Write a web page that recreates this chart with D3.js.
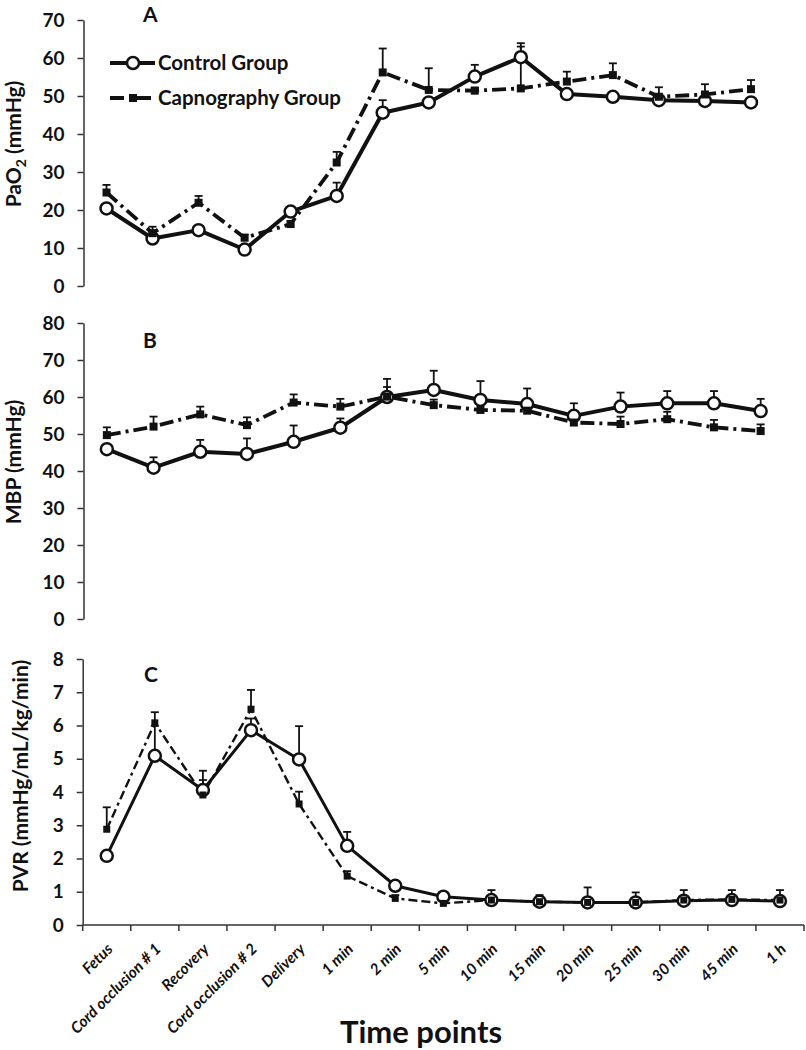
<!DOCTYPE html>
<html><head><meta charset="utf-8">
<script src="https://cdn.jsdelivr.net/npm/d3@7"></script>
<style>body{margin:0;background:#fff} svg{display:block} text{font-family:Lato,'DejaVu Sans',sans-serif;fill:#111}</style>
</head><body><svg id="chart" width="806" height="1050"></svg>
<script>
// ---------- data ----------
const timePoints = ["Fetus","Cord occlusion # 1","Recovery","Cord occlusion # 2","Delivery","1 min","2 min","5 min","10 min","15 min","20 min","25 min","30 min","45 min","1 h"];
const seriesNames = ["Control Group","Capnography Group"];

const pao2Control    = [20.4,12.5,14.7,9.6,19.6,23.7,45.6,48.3,55.1,60.2,50.5,49.8,48.9,48.7,48.3];
const pao2ControlErr = [0.5,0.6,0.6,0.5,0.8,3.5,3.3,1.0,3.1,3.7,1.2,1.0,0.8,0.8,0.8];
const pao2Capno      = [24.6,13.9,21.9,12.7,16.3,32.5,56.2,51.6,51.4,52.0,53.8,55.5,49.8,50.4,51.8];
const pao2CapnoErr   = [2.0,1.7,1.8,0.8,0.8,2.8,6.3,5.7,0.8,11.0,2.6,3.1,2.5,2.7,2.4];

const mbpControl    = [45.9,40.9,45.2,44.6,47.9,51.7,60.0,61.9,59.2,58.1,54.9,57.4,58.3,58.3,56.2];
const mbpControlErr = [0.8,2.8,3.2,4.2,4.4,2.5,2.7,5.2,5.1,4.2,3.4,3.8,3.3,3.3,3.3];
const mbpCapno      = [49.7,52.0,55.3,52.4,58.5,57.4,60.1,57.8,56.5,56.3,53.1,52.7,54.0,51.8,50.8];
const mbpCapnoErr   = [2.1,2.7,2.1,2.1,2.2,2.1,4.8,1.5,1.5,1.5,1.5,2.0,2.0,2.0,1.8];

const pvrControl    = [2.08,5.09,4.06,5.86,4.98,2.38,1.18,0.85,0.75,0.70,0.68,0.68,0.73,0.75,0.72];
const pvrControlErr = [0.15,0.9,0.3,0.35,1.0,0.42,0.12,0.1,0.1,0.1,0.1,0.1,0.1,0.1,0.1];
const pvrCapno      = [2.88,6.08,3.91,6.49,3.64,1.47,0.80,0.65,0.75,0.70,0.68,0.68,0.75,0.77,0.75];
const pvrCapnoErr   = [0.66,0.32,0.73,0.58,0.37,0.15,0.1,0.1,0.3,0.2,0.45,0.3,0.3,0.28,0.3];

const yMaxA = 70, yMaxB = 80, yMaxC = 8;
const xAxisTitle = "Time points";

// ---------- layout ----------
const svg = d3.select("#chart");
const panels = [
  {label:"A", ctl:pao2Control, ctlErr:pao2ControlErr, cap:pao2Capno, capErr:pao2CapnoErr, yMax:yMaxA, step:10,
   top:20, bottom:286, left:83.5, right:774, labelPos:[143,22], yTitleY:144, yTitleX:21, lw:4, cw:3.8, dash:"14,5,3,5", sq:8, xAxis:false},
  {label:"B", ctl:mbpControl, ctlErr:mbpControlErr, cap:mbpCapno, capErr:mbpCapnoErr, yMax:yMaxB, step:10,
   top:323, bottom:619, left:83.5, right:784, labelPos:[143,348], yTitleY:462, yTitleX:21, lw:4, cw:3.8, dash:"14,5,3,5", sq:8, xAxis:false},
  {label:"C", ctl:pvrControl, ctlErr:pvrControlErr, cap:pvrCapno, capErr:pvrCapnoErr, yMax:yMaxC, step:1,
   top:659, bottom:925, left:82.7, right:804, labelPos:[144,682], yTitleY:776, yTitleX:28, lw:3, cw:2.4, dash:"9,4,9,4,3,4", sq:7, xAxis:true}
];

panels.forEach(p => {
  const g = svg.append("g");
  const x = d3.scaleBand().domain(timePoints).range([p.left, p.right]);
  const y = d3.scaleLinear().domain([0, p.yMax]).range([p.bottom, p.top]);
  const cx = d => x(d) + x.bandwidth()/2;

  // y axis
  const ya = d3.axisLeft(y).tickValues(d3.range(0, p.yMax + p.step/2, p.step)).tickSize(6).tickSizeOuter(0).tickPadding(13);
  const yg = g.append("g").attr("transform", `translate(${p.left},0)`).call(ya);
  yg.select(".domain").attr("stroke","#333").attr("stroke-width",1.5);
  yg.selectAll(".tick line").attr("stroke","#333").attr("stroke-width",1.5);
  yg.selectAll(".tick text").attr("font-size",19).attr("font-weight","bold").attr("fill","#111")
    .style("font-family","Lato,'DejaVu Sans',sans-serif");

  // x axis (panel C only)
  if (p.xAxis) {
    const xg = g.append("g");
    xg.append("line").attr("x1",p.left).attr("x2",p.right).attr("y1",p.bottom).attr("y2",p.bottom)
      .attr("stroke","#333").attr("stroke-width",1.5);
    const bounds = timePoints.map(d => x(d)).concat([x(timePoints[timePoints.length-1]) + x.step()]);
    xg.selectAll("line.tk").data(bounds).join("line").attr("class","tk")
      .attr("x1",d=>d).attr("x2",d=>d).attr("y1",p.bottom).attr("y2",p.bottom+6)
      .attr("stroke","#333").attr("stroke-width",1.5);
    xg.selectAll("text.xl").data(timePoints).join("text").attr("class","xl")
      .attr("transform", d => `translate(${cx(d)+7},${p.bottom+25}) rotate(-45)`)
      .attr("text-anchor","end").attr("font-size",15.5).attr("font-weight","bold").attr("font-style","italic")
      .text(d=>d);
    svg.append("text").attr("x",421).attr("y",1043).attr("text-anchor","middle")
      .attr("font-size",31).attr("font-weight","bold").text(xAxisTitle);
  }

  // panel letter
  g.append("text").attr("x",p.labelPos[0]).attr("y",p.labelPos[1]).attr("font-size",21).attr("font-weight","bold").text(p.label);

  const line = d3.line().x((d,i)=>cx(timePoints[i])).y(d=>y(d));

  const errBars = (vals, errs) => {
    const eg = g.append("g").attr("stroke","#111").attr("stroke-width",1.8).attr("fill","none");
    vals.forEach((v,i) => {
      const xc = cx(timePoints[i]);
      eg.append("line").attr("x1",xc).attr("x2",xc).attr("y1",y(v)).attr("y2",y(v+errs[i]));
      eg.append("line").attr("x1",xc-4).attr("x2",xc+4).attr("y1",y(v+errs[i])).attr("y2",y(v+errs[i]));
    });
  };
  errBars(p.ctl, p.ctlErr);
  errBars(p.cap, p.capErr);

  g.append("path").datum(p.ctl).attr("d",line).attr("fill","none").attr("stroke","#111").attr("stroke-width",p.lw).attr("stroke-linejoin","round");
  g.append("path").datum(p.cap).attr("d",line).attr("fill","none").attr("stroke","#111").attr("stroke-width",p.cw).attr("stroke-dasharray",p.dash);

  g.selectAll("circle.m").data(p.ctl).join("circle").attr("class","m")
    .attr("cx",(d,i)=>cx(timePoints[i])).attr("cy",d=>y(d)).attr("r",6)
    .attr("fill","#fff").attr("stroke","#111").attr("stroke-width",2.5);
  g.selectAll("rect.m").data(p.cap).join("rect").attr("class","m")
    .attr("x",(d,i)=>cx(timePoints[i])-p.sq/2).attr("y",d=>y(d)-p.sq/2).attr("width",p.sq).attr("height",p.sq)
    .attr("fill","#111");

  // y title
  const yt = svg.append("text").attr("transform",`translate(${p.yTitleX},${p.yTitleY}) rotate(-90)`)
    .attr("text-anchor","middle").attr("font-size",21).attr("font-weight","bold");
  if (p.label === "A") {
    yt.append("tspan").text("PaO");
    yt.append("tspan").attr("font-size",14).attr("dy",5).text("2");
    yt.append("tspan").attr("dy",-5).text(" (mmHg)");
  } else if (p.label === "B") {
    yt.text("MBP (mmHg)");
  } else {
    yt.text("PVR (mmHg/mL/kg/min)");
  }
});

// legend
const leg = svg.append("g");
const legY = [63, 98];
leg.append("line").attr("x1",110).attr("x2",155).attr("y1",legY[0]).attr("y2",legY[0]).attr("stroke","#111").attr("stroke-width",4);
leg.append("circle").attr("cx",133).attr("cy",legY[0]).attr("r",6).attr("fill","#fff").attr("stroke","#111").attr("stroke-width",2.5);
leg.append("line").attr("x1",110).attr("x2",155).attr("y1",legY[1]).attr("y2",legY[1]).attr("stroke","#111").attr("stroke-width",4).attr("stroke-dasharray","14,5,3,5");
leg.append("rect").attr("x",129).attr("y",legY[1]-4).attr("width",8).attr("height",8).attr("fill","#111");
leg.selectAll("text").data(seriesNames).join("text")
  .attr("x",158).attr("y",(d,i)=>legY[i]+7).attr("font-size",20.5).attr("font-weight","bold").text(d=>d);
</script></body></html>
